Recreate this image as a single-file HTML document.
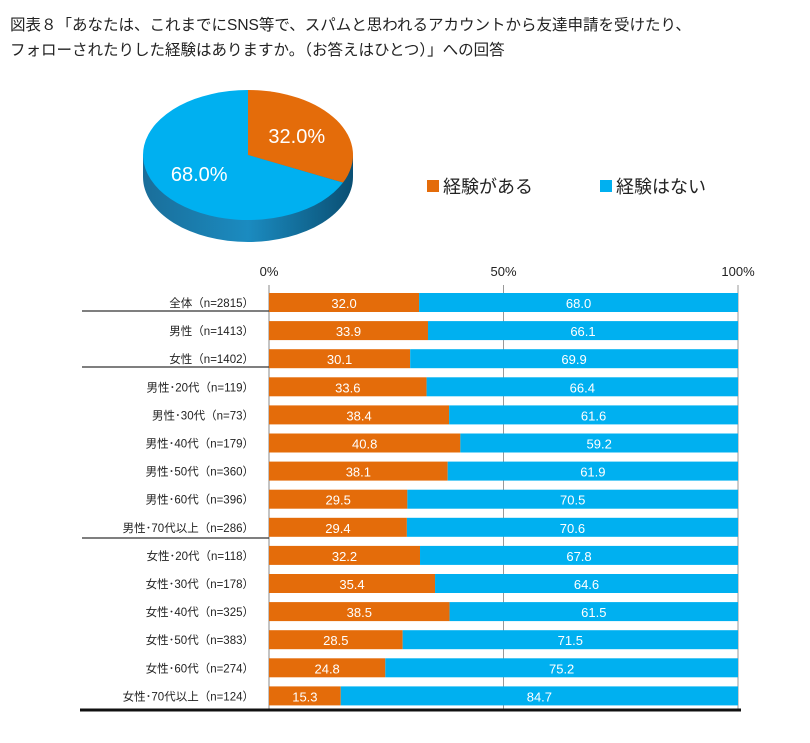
<!DOCTYPE html>
<html><head><meta charset="utf-8"><style>
body{margin:0;background:#fff;font-family:"Liberation Sans","Noto Sans CJK JP",sans-serif;}
.t{position:absolute;left:10px;font-size:15.5px;color:#222;white-space:nowrap}
</style></head><body>
<div style="position:relative;width:810px;height:743px;overflow:hidden">
<div class="t" style="top:13px">図表８「あなたは、これまでにSNS等で、スパムと思われるアカウントから友達申請を受けたり、</div>
<div class="t" style="top:38px">フォローされたりした経験はありますか。（お答えはひとつ）」への回答</div>
<svg id="svg" width="810" height="743" style="position:absolute;left:0;top:0"></svg>
</div>
<script>
const categories=["全体（n=2815）","男性（n=1413）","女性（n=1402）","男性･20代（n=119）","男性･30代（n=73）","男性･40代（n=179）","男性･50代（n=360）","男性･60代（n=396）","男性･70代以上（n=286）","女性･20代（n=118）","女性･30代（n=178）","女性･40代（n=325）","女性･50代（n=383）","女性･60代（n=274）","女性･70代以上（n=124）"];
const yesValues=[32.0,33.9,30.1,33.6,38.4,40.8,38.1,29.5,29.4,32.2,35.4,38.5,28.5,24.8,15.3];
const noValues=[68.0,66.1,69.9,66.4,61.6,59.2,61.9,70.5,70.6,67.8,64.6,61.5,71.5,75.2,84.7];
const tickLabels=["0%","50%","100%"];
const tickValues=[0,50,100];
const pieValues=[32.0,68.0];
const seriesNames=["経験がある","経験はない"];
const ORANGE="#E46C0A",BLUE="#00B0F0";
const svg=document.getElementById('svg');const NS="http://www.w3.org/2000/svg";
function mk(t,a,p){const e=document.createElementNS(NS,t);for(const k in a)e.setAttribute(k,a[k]);(p||svg).appendChild(e);return e;}
const x0=269,x1=738;const xs=v=>x0+(x1-x0)*v/100;
const rowY=i=>293+i*28.1;const bh=19;
tickValues.forEach((v,i)=>{
 const l=mk('line',{x1:xs(v),x2:xs(v),y1:285,y2:710,stroke:i==0?'#888':'#999','stroke-width':1});
 
 
 const t=mk('text',{x:xs(v),y:276,'text-anchor':'middle','font-size':13,fill:'#222'});t.textContent=tickLabels[i];
 
 
});
categories.forEach((c,i)=>{
 const y=rowY(i);
 const t=mk('text',{x:254,y:y+14,'text-anchor':'end','font-size':11.5,fill:'#222'});t.textContent=c;
 
 
 const a=mk('rect',{x:xs(0),y:y,width:xs(yesValues[i])-xs(0),height:bh,fill:ORANGE});
 
 
 const b=mk('rect',{x:xs(yesValues[i]),y:y,width:xs(yesValues[i]+noValues[i])-xs(yesValues[i]),height:bh,fill:BLUE});
 
 
 const ta=mk('text',{x:(xs(0)+xs(yesValues[i]))/2,y:y+15,'text-anchor':'middle','font-size':13,fill:'#fff'});ta.textContent=yesValues[i].toFixed(1);
 
 
 const tb=mk('text',{x:(xs(yesValues[i])+xs(yesValues[i]+noValues[i]))/2,y:y+15,'text-anchor':'middle','font-size':13,fill:'#fff'});tb.textContent=noValues[i].toFixed(1);
 
 
});
[[311,1],[367,1],[538,1]].forEach(s=>{const l=mk('line',{x1:82,x2:269,y1:s[0],y2:s[0],stroke:'#333','stroke-width':1.3});
 
 });
const bl=mk('line',{x1:80,x2:741,y1:710,y2:710,stroke:'#111','stroke-width':3});


// pie
const cx=248,cy=155,rx=105,ry=65,dep=22;
const defs=mk('defs',{});
const g=mk('linearGradient',{id:'side',x1:0,x2:1,y1:0,y2:0},defs);
mk('stop',{offset:0,'stop-color':'#1a6e9a'},g);mk('stop',{offset:0.5,'stop-color':'#1b8bc0'},g);mk('stop',{offset:1,'stop-color':'#0a4f73'},g);
const side=mk('path',{d:`M${cx-rx},${cy} L${cx-rx},${cy+dep} A${rx},${ry} 0 0 0 ${cx+rx},${cy+dep} L${cx+rx},${cy} Z`,fill:'url(#side)'});


const total=pieValues[0]+pieValues[1];
let ang=-Math.PI/2;const cols=[ORANGE,BLUE];
const pt=a=>[cx+rx*Math.cos(a),cy+ry*Math.sin(a)];
pieValues.forEach((v,i)=>{
 const a2=ang+2*Math.PI*v/total;const p1=pt(ang),p2=pt(a2);
 const large=(a2-ang)>Math.PI?1:0;
 const s=mk('path',{d:`M${cx},${cy} L${p1[0]},${p1[1]} A${rx},${ry} 0 ${large} 1 ${p2[0]},${p2[1]} Z`,fill:cols[i]});
 
 
 const m=(ang+a2)/2;const lp=[cx+rx*0.55*Math.cos(m),cy+ry*0.55*Math.sin(m)];
 const t=mk('text',{x:lp[0],y:lp[1]+7,'text-anchor':'middle','font-size':20,fill:'#fff'});t.textContent=v.toFixed(1)+'%';
 
 
 ang=a2;
});
[[427,0],[600,1]].forEach(([x,i])=>{
 const r=mk('rect',{x:x,y:180,width:12,height:12,fill:cols[i]});
 
 
 const t=mk('text',{x:x+16,y:193,'font-size':18,fill:'#222'});t.textContent=seriesNames[i];
 
 
});
</script>
</body></html>
